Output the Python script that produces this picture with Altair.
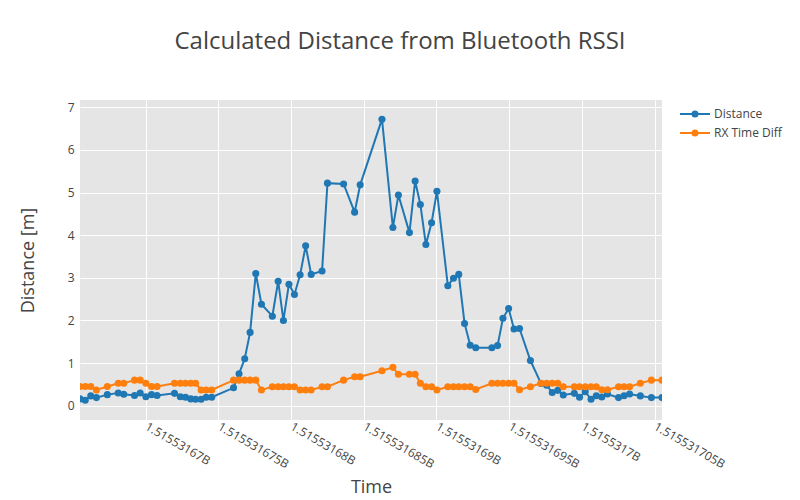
import altair as alt
import pandas as pd

# ---- data ----
times = [
    1515531665.48, 1515531665.84, 1515531666.22, 1515531666.61, 1515531667.36,
    1515531668.11, 1515531668.49, 1515531669.23, 1515531669.62, 1515531670.01,
    1515531670.40, 1515531670.78, 1515531671.98, 1515531672.38, 1515531672.74,
    1515531673.10, 1515531673.43, 1515531673.81, 1515531674.16, 1515531674.54,
    1515531676.04, 1515531676.42, 1515531676.81, 1515531677.18, 1515531677.57,
    1515531677.96, 1515531678.71, 1515531679.11, 1515531679.47, 1515531679.85,
    1515531680.23, 1515531680.62, 1515531681.00, 1515531681.38, 1515531682.13,
    1515531682.50, 1515531683.61, 1515531684.37, 1515531684.75, 1515531686.25,
    1515531687.00, 1515531687.38, 1515531688.14, 1515531688.53, 1515531688.89,
    1515531689.27, 1515531689.66, 1515531690.03, 1515531690.78, 1515531691.17,
    1515531691.53, 1515531691.93, 1515531692.32, 1515531692.70, 1515531693.81,
    1515531694.20, 1515531694.57, 1515531694.96, 1515531695.33, 1515531695.71,
    1515531696.46, 1515531697.19, 1515531697.58, 1515531697.96, 1515531698.34,
    1515531698.72, 1515531699.48, 1515531699.84, 1515531700.23, 1515531700.63,
    1515531700.99, 1515531701.37, 1515531701.76, 1515531702.52, 1515531702.90,
    1515531703.28, 1515531704.02, 1515531704.78, 1515531705.51,
]

distance = [
    0.16, 0.13, 0.23, 0.19, 0.26, 0.30, 0.27, 0.24, 0.30, 0.21,
    0.26, 0.24, 0.29, 0.21, 0.20, 0.16, 0.15, 0.15, 0.20, 0.20,
    0.42, 0.75, 1.10, 1.72, 3.10, 2.38, 2.10, 2.92, 2.00, 2.85,
    2.61, 3.07, 3.75, 3.08, 3.16, 5.22, 5.20, 4.54, 5.18, 6.72,
    4.18, 4.94, 4.06, 5.27, 4.72, 3.78, 4.29, 5.03, 2.815, 2.99,
    3.08, 1.93, 1.42, 1.36, 1.36, 1.41, 2.05, 2.28, 1.80, 1.81,
    1.06, 0.52, 0.48, 0.31, 0.36, 0.25, 0.29, 0.20, 0.33, 0.15,
    0.235, 0.205, 0.275, 0.19, 0.235, 0.275, 0.23, 0.19, 0.19,
]

rx_time_diff = [
    0.45, 0.45, 0.45, 0.37, 0.45, 0.525, 0.525, 0.60, 0.60, 0.525,
    0.45, 0.45, 0.525, 0.525, 0.525, 0.525, 0.525, 0.37, 0.37, 0.37,
    0.60, 0.60, 0.60, 0.60, 0.60, 0.37, 0.445, 0.445, 0.445, 0.445,
    0.445, 0.37, 0.37, 0.37, 0.445, 0.445, 0.60, 0.68, 0.68, 0.82,
    0.90, 0.74, 0.74, 0.74, 0.525, 0.445, 0.445, 0.37, 0.445, 0.445,
    0.445, 0.445, 0.445, 0.38, 0.525, 0.525, 0.525, 0.525, 0.525, 0.375,
    0.445, 0.525, 0.525, 0.525, 0.525, 0.445, 0.445, 0.445, 0.445, 0.445,
    0.445, 0.375, 0.375, 0.445, 0.445, 0.445, 0.525, 0.60, 0.60,
]

series_names = ["Distance", "RX Time Diff"]
series_colors = ["#1f77b4", "#ff7f0e"]
x_ticks = [1515531670, 1515531675, 1515531680, 1515531685,
           1515531690, 1515531695, 1515531700, 1515531705]
y_ticks = [0, 1, 2, 3, 4, 5, 6, 7]

FONT = "Open Sans"
TXT = "#444444"

n = len(times)
df = pd.DataFrame({
    "time": times + times,
    "value": distance + rx_time_diff,
    "series": [series_names[0]] * n + [series_names[1]] * n,
})

x_enc = alt.X(
    "time:Q",
    scale=alt.Scale(domain=[times[0], times[-1]], nice=False, zero=False),
    axis=alt.Axis(
        values=x_ticks,
        labelExpr="format(datum.value / 1e9, '.9~f') + 'B'",
        labelAngle=30, labelAlign="left", labelBaseline="middle",
        labelPadding=5, labelFontSize=12, labelFont=FONT, labelColor=TXT,
        title="Time", titleFontSize=18, titleFont=FONT, titleColor=TXT,
        titleFontWeight="normal", titlePadding=9,
        ticks=False, domain=False, grid=True, gridColor="white", gridWidth=1,
        labelOverlap=False,
    ),
)
y_enc = alt.Y(
    "value:Q",
    scale=alt.Scale(domain=[-0.335, 7.17], nice=False, zero=False),
    axis=alt.Axis(
        values=y_ticks, format="d",
        labelPadding=6, labelFontSize=12, labelFont=FONT, labelColor=TXT,
        title="Distance [m]", titleFontSize=18, titleFont=FONT, titleColor=TXT,
        titleFontWeight="normal", titlePadding=30,
        ticks=False, domain=False, grid=True, gridColor="white", gridWidth=1,
    ),
)
color_enc = alt.Color(
    "series:N",
    scale=alt.Scale(domain=series_names, range=series_colors),
    legend=None,
)

layers = []
for name in series_names:
    sub = alt.Chart(df).transform_filter(alt.datum.series == name)
    layers.append(sub.mark_line(strokeWidth=2, clip=True).encode(x=x_enc, y=y_enc, color=color_enc))
    layers.append(sub.mark_point(filled=True, size=50, opacity=1, clip=True).encode(x=x_enc, y=y_enc, color=color_enc))

# manual legend (line + marker + label), one row per entry
for i, (name, col) in enumerate(zip(series_names, series_colors)):
    yy = 14 + 19 * i
    one = alt.Chart(pd.DataFrame({"series": [name]}))
    layers.append(one.mark_rule(strokeWidth=2, color=col).encode(
        x=alt.value(600), x2=alt.value(630), y=alt.value(yy)))
    layers.append(one.mark_point(filled=True, size=50, opacity=1, color=col).encode(
        x=alt.value(615), y=alt.value(yy)))
    layers.append(one.mark_text(align="left", baseline="middle", font=FONT,
                                fontSize=12, color=TXT).encode(
        text="series:N", x=alt.value(634), y=alt.value(yy)))

chart = alt.layer(*layers).properties(
    width=582, height=320,
    title=alt.TitleParams("Calculated Distance from Bluetooth RSSI", anchor="middle",
                          dx=29, offset=46, fontSize=24, font=FONT, color=TXT,
                          fontWeight="normal"),
    autosize=alt.AutoSizeParams(type="none"),
    padding={"left": 72, "top": 92, "right": 130, "bottom": 84},
).configure(background="white").configure_view(fill="#e5e5e5", strokeWidth=0)

chart.save("out.html", embed_options={"renderer": "svg", "actions": False})
